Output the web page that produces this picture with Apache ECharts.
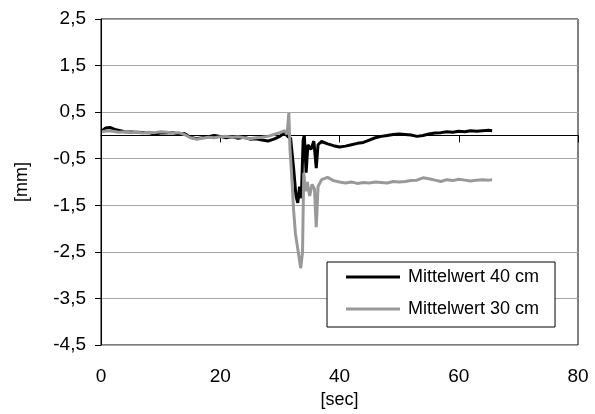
<!DOCTYPE html>
<html>
<head>
<meta charset="utf-8">
<script src="https://cdn.jsdelivr.net/npm/echarts@6/dist/echarts.min.js"></script>
<style>
  html, body { margin: 0; padding: 0; background: #fff; }
  #chart { width: 595px; height: 414px; }
</style>
</head>
<body>
<div id="chart"></div>
<script>
// Zeit in Sekunden / Messwerte in mm
var tSchwarz = [0.2, 0.8, 1.5, 2.5, 4, 6, 8, 9, 10, 12, 13, 14, 15, 16, 17, 18, 19, 20, 21, 22, 23, 24, 25, 26, 27, 28, 29, 30, 30.8, 31.3, 31.8, 32.3, 32.7, 33.0, 33.3, 33.6, 33.9, 34.1, 34.4, 34.7, 35.2, 35.7, 36.1, 36.4, 37, 38, 39, 40, 41, 42, 43, 44, 45, 46, 47, 48, 49, 50, 51, 52, 53, 54, 55, 56, 57, 58, 59, 60, 61, 62, 63, 64, 65, 65.6];
var ySchwarz = [0.10, 0.16, 0.17, 0.12, 0.08, 0.07, 0.06, 0.03, 0.05, 0.06, 0.03, 0.04, -0.04, -0.07, -0.05, -0.03, 0.0, -0.02, -0.05, -0.03, -0.06, -0.04, -0.08, -0.07, -0.10, -0.12, -0.08, -0.02, 0.05, -0.02, -0.06, -0.7, -1.3, -1.45, -1.1, -1.35, -0.1, 0.0, -0.8, -0.2, -0.3, -0.12, -0.7, -0.2, -0.13, -0.18, -0.22, -0.25, -0.23, -0.2, -0.17, -0.15, -0.1, -0.05, -0.02, 0.0, 0.02, 0.03, 0.02, 0.01, -0.02, 0.0, 0.03, 0.05, 0.06, 0.08, 0.07, 0.09, 0.08, 0.10, 0.09, 0.10, 0.11, 0.10];

var tGrau = [0.2, 1, 2, 3, 4, 5, 6, 7, 8, 9, 10, 11, 12, 13, 14, 15, 16, 17, 18, 19, 20, 21, 22, 23, 24, 25, 26, 27, 28, 29, 30, 30.8, 31.2, 31.5, 31.7, 32.0, 32.3, 32.6, 32.9, 33.2, 33.5, 33.8, 34.0, 34.3, 34.6, 35.0, 35.4, 35.8, 36.1, 36.4, 37, 38, 39, 40, 41, 42, 43, 44, 45, 46, 47, 48, 49, 50, 51, 52, 53, 54, 55, 56, 57, 58, 59, 60, 61, 62, 63, 64, 65, 65.6];
var yGrau = [0.08, 0.10, 0.09, 0.07, 0.08, 0.06, 0.07, 0.05, 0.07, 0.06, 0.08, 0.07, 0.05, 0.06, 0.02, -0.05, -0.08, -0.06, -0.04, -0.05, -0.03, -0.02, -0.04, -0.03, -0.05, -0.07, -0.05, -0.04, -0.02, 0.02, 0.06, 0.10, 0.02, 0.48, -0.3, -0.9, -1.6, -2.1, -2.35, -2.6, -2.85, -2.5, -0.8, -1.2, -1.0, -1.3, -1.05, -1.15, -1.97, -1.1, -0.95, -0.9, -0.97, -1.0, -1.02, -1.0, -1.03, -1.01, -1.02, -1.0, -1.01, -1.02, -0.99, -1.0, -0.99, -0.97, -0.96, -0.91, -0.93, -0.96, -0.99, -0.95, -0.97, -0.94, -0.96, -0.98, -0.96, -0.95, -0.96, -0.95];

var reihen = ['Mittelwert 40 cm', 'Mittelwert 30 cm'];

function paare(t, y) {
  return t.map(function (v, i) { return [v, y[i]]; });
}

var chart = echarts.init(document.getElementById('chart'));
chart.setOption({
  animation: false,
  textStyle: { fontFamily: 'Liberation Sans, Arial, sans-serif' },
  grid: {
    left: 101, right: 17, top: 19, bottom: 69,
    show: true, borderColor: '#000', borderWidth: 1
  },
  legend: {
    data: reihen,
    orient: 'vertical',
    left: 327, top: 262,
    padding: [6, 16, 9, 19],
    itemGap: 14,
    itemWidth: 54, itemHeight: 3,
    icon: 'rect',
    borderColor: '#000', borderWidth: 1,
    backgroundColor: '#fff',
    textStyle: { fontSize: 18, color: '#000', padding: [0, 0, 0, 3], fontFamily: 'Liberation Sans, Arial, sans-serif' }
  },
  xAxis: [
    {
      type: 'value', min: 0, max: 80, interval: 20,
      name: '[sec]', nameLocation: 'middle', nameGap: 45,
      nameTextStyle: { fontSize: 18, color: '#000' },
      axisLine: { show: false, onZero: false },
      axisTick: { show: false },
      splitLine: { show: false },
      axisLabel: { fontSize: 19, color: '#000', margin: 22 }
    },
    {
      type: 'value', min: 0, max: 80, interval: 20,
      position: 'top',
      axisLine: { show: true, onZero: true, lineStyle: { color: '#000', width: 1 } },
      axisTick: { show: true, inside: true, length: 7, lineStyle: { color: '#000' } },
      axisLabel: { show: false },
      splitLine: { show: false }
    }
  ],
  yAxis: {
    type: 'value', min: -4.5, max: 2.5, interval: 1,
    name: '[mm]', nameLocation: 'middle', nameGap: 70,
    nameTextStyle: { fontSize: 18, color: '#000' },
    axisLine: { show: true, onZero: false, lineStyle: { color: '#000' } },
    axisTick: { show: true, length: 6, lineStyle: { color: '#000' } },
    splitLine: { show: true, lineStyle: { color: '#a6a6a6', width: 1 } },
    axisLabel: {
      fontSize: 19, color: '#000', margin: 15,
      formatter: function (v) { return v.toFixed(1).replace('.', ','); }
    }
  },
  series: [
    {
      name: reihen[0], type: 'line', data: paare(tSchwarz, ySchwarz),
      showSymbol: false, lineStyle: { color: '#000', width: 3 }, itemStyle: { color: '#000' }
    },
    {
      name: reihen[1], type: 'line', data: paare(tGrau, yGrau),
      showSymbol: false, lineStyle: { color: '#999', width: 3 }, itemStyle: { color: '#999' }
    }
  ]
});
</script>
</body>
</html>
